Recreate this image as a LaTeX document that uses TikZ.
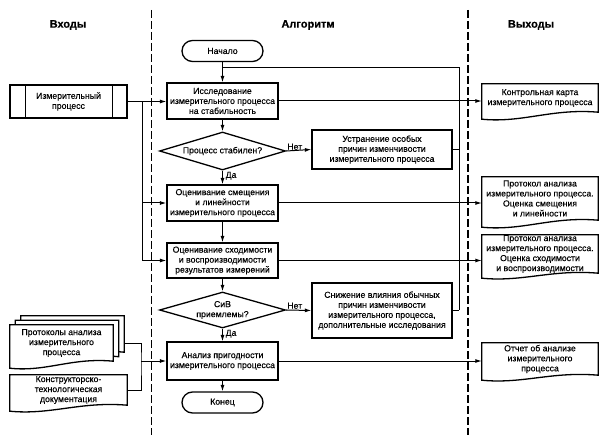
\documentclass[tikz,border=0pt]{standalone}
\usepackage{fontspec}
\setmainfont{Liberation Sans}[FakeBold=0.3]
\usetikzlibrary{shapes.geometric,arrows.meta,calc}
\newcommand\mydocshape[3][]{%
  \draw[boxline,#1] (#2.north west) -- (#2.north east) -- (#2.south east)
    .. controls ($(#2.south west)!0.6!(#2.south east)+(0,-4)$) and ($(#2.south west)!0.35!(#2.south east)+(0,#3+4)$) .. ($(#2.south west)+(0,#3)$) -- cycle;}
\begin{document}
\begin{tikzpicture}[x=1pt,y=-1pt,
  every node/.style={font=\fontsize{8.7}{10}\selectfont, align=center, inner sep=0pt},
  boxline/.style={line width=1.3pt},
  conn/.style={line width=1pt},
  arr/.style={conn,-{Latex[length=6.5pt,width=4pt]}},
  box/.style={draw, boxline, minimum width=111pt},
  corr/.style={draw, boxline, minimum width=140pt},
  term/.style={draw, boxline, minimum width=81pt, minimum height=21pt, rounded corners=10.5pt},
  dec/.style={draw, boxline, shape=diamond, aspect=3.3, minimum width=126pt, minimum height=38pt},
  docnode/.style={minimum width=116pt},
  head/.style={font=\bfseries\fontsize{11}{13}\selectfont},
  lbl/.style={font=\fontsize{8.7}{10}\selectfont},
  sep/.style={line width=1.2pt, dash pattern=on 8pt off 3pt}
]
\useasboundingbox (0,0) rectangle (605,438);

% separators
\draw[sep] (151.5,10) -- (151.5,435);
\draw[sep] (468,10) -- (468,435);

% headers
\node[head] (h1) at (68,25) {Входы};
\node[head] (h2) at (308,25) {Алгоритм};
\node[head] (h3) at (531,25) {Выходы};

% algorithm
\node[term] (start) at (222.5,51) {Начало};
\node[box, minimum height=36pt] (b1) at (222.5,101) {Исследование\\измерительного процесса\\на стабильность};
\node[dec] (d1) at (222.5,151) {Процесс стабилен?};
\node[corr, minimum height=39pt] (c1) at (382,149.5) {Устранение особых\\причин изменчивости\\измерительного процесса};
\node[box, minimum height=36pt] (b2) at (222.5,203) {Оценивание смещения\\и линейности\\измерительного процесса};
\node[box, minimum height=35pt] (b3) at (222.5,260.5) {Оценивание сходимости\\и воспроизводимости\\результатов измерений};
\node[dec, minimum height=36pt] (d2) at (222.5,310) {СиВ\\приемлемы?};
\node[corr, minimum height=55pt] (c2) at (382,310.5) {Снижение влияния обычных\\причин изменчивости\\измерительного процесса,\\дополнительные исследования};
\node[box, minimum height=38pt] (b4) at (222.5,361) {Анализ пригодности\\измерительного процесса};
\node[term] (end) at (222.5,402.5) {Конец};

% inputs
\node[draw, boxline, minimum width=117pt, minimum height=33pt] (in1) at (68.5,101.5) {Измерительный\\процесс};
\draw[boxline] ([xshift=16pt]in1.north west) -- ([xshift=16pt]in1.south west);
\draw[boxline] ([xshift=-15pt]in1.north east) -- ([xshift=-15pt]in1.south east);

\node[minimum width=103pt, minimum height=36pt] (in2c) at (72.5,334) {};
\node[minimum width=103pt, minimum height=36pt] (in2b) at (67,338.5) {};
\mydocshape[fill=white]{in2c}{7}
\mydocshape[fill=white]{in2b}{7}
\node[minimum width=103pt, minimum height=36pt] (in2) at (61.5,343) {};
\mydocshape[fill=white]{in2}{7}
\node at (in2) {Протоколы анализа\\измерительного\\процесса};

\node[minimum width=117pt, minimum height=30pt] (in3) at (68.5,390) {Конструкторско-\\технологическая\\документация};
\mydocshape{in3}{6}

% outputs
\node[docnode, minimum height=28pt] (o1) at (540,98) {Контрольная карта\\измерительного процесса};
\mydocshape{o1}{7}
\node[docnode, minimum height=43pt] (o2) at (540,198.5) {Протокол анализа\\измерительного процесса.\\Оценка смещения\\и линейности};
\mydocshape{o2}{7}
\node[docnode, minimum height=38pt] (o3) at (540,254) {Протокол анализа\\измерительного процесса.\\Оценка сходимости\\и воспроизводимости};
\mydocshape{o3}{5}
\node[docnode, minimum height=32pt] (o4) at (540,359) {Отчет об анализе\\измерительного\\процесса};
\mydocshape{o4}{5}

% flow
\draw[arr] (start) -- (b1);
\draw[arr] (b1) -- (d1);
\draw[arr] (d1) -- (b2);
\draw[arr] (b2) -- (b3);
\draw[arr] (b3) -- (d2);
\draw[arr] (d2) -- (b4);
\draw[arr] (b4) -- (end);
\draw[arr] (d1.east) -- (c1.west);
\draw[arr] (d2.east) -- (c2.west);
\node[lbl, anchor=south west] (n1) at ([xshift=1pt,yshift=1pt]d1.east) {Нет};
\node[lbl, anchor=south west] (n2) at ([xshift=1pt,yshift=1pt]d2.east) {Нет};
\node[lbl, anchor=west] (y1) at ([xshift=3pt,yshift=-5pt]d1.south) {Да};
\node[lbl, anchor=west] (y2) at ([xshift=3pt,yshift=-5pt]d2.south) {Да};

% loop back
\coordinate (lp) at (459,68);
\draw[conn] (start.south |- lp) -- (lp) -- (lp |- c2.east);
\draw[conn] (c1.east) -- (c1.east -| lp);
\draw[conn] (c2.east) -- (c2.east -| lp);

% outputs arrows
\draw[arr] (b1.east) -- (b1.east -| o1.west);
\draw[arr] (b2.east) -- (b2.east -| o2.west);
\draw[arr] (b3.east) -- (b3.east -| o3.west);
\draw[arr] (b4.east) -- (b4.east -| o4.west);

% input arrows
\coordinate (lb) at (142,0);
\draw[arr] (in1.east) -- (in1.east -| b1.west);
\draw[arr] (in1.east -| lb) |- (b2.west);
\draw[arr] (in1.east -| lb) |- (b3.west);

\coordinate (jb) at (141,361);
\draw[conn] (in2c.east |- in2.east) -| (jb) |- (in3.east);
\draw[arr] (jb) -- (jb -| b4.west);
\end{tikzpicture}
\end{document}
